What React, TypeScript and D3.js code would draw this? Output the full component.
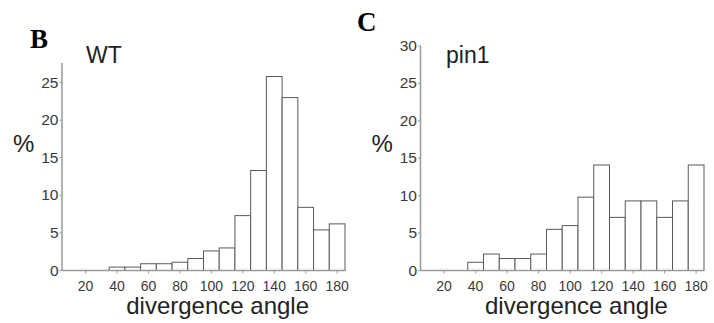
import React from 'react'
import * as d3 from 'd3'

// bins are 10 degrees wide, labelled by their centre
const binCenters = [40, 50, 60, 70, 80, 90, 100, 110, 120, 130, 140, 150, 160, 170, 180]
const wtPercent = [0.45, 0.45, 0.9, 0.9, 1.1, 1.6, 2.6, 3.0, 7.3, 13.3, 25.8, 23.0, 8.4, 5.4, 6.2]
const pin1Percent = [1.1, 2.2, 1.6, 1.6, 2.2, 5.5, 6.0, 9.8, 14.1, 7.1, 9.3, 9.3, 7.1, 9.3, 14.1]
const xTicks = [20, 40, 60, 80, 100, 120, 140, 160, 180]
const yTicksWT = [0, 5, 10, 15, 20, 25]
const yTicksPin1 = [0, 5, 10, 15, 20, 25, 30]

const AXIS = '#9a9a9a'
const TEXT = '#3a3a3a'
const BAR = '#5a5a5a'
const SANS = 'Arial, "Liberation Sans", sans-serif'

function Panel({ values, yTicks, yMax, left, right, top, letter, letterPos, title, titlePos }) {
  const bottom = 270.5
  const x = d3.scaleLinear().domain([5, 185]).range([left, right])
  const y = d3.scaleLinear().domain([0, yMax]).range([bottom, top])
  const binW = 10

  return (
    <g>
      <text x={letterPos[0]} y={letterPos[1]} fontFamily='"Liberation Serif", "Times New Roman", serif'
        fontWeight="bold" fontSize={27} fill="#000">{letter}</text>
      <text x={titlePos[0]} y={titlePos[1]} fontFamily={SANS} fontSize={23} fill="#222">{title}</text>
      <text x={left - 49} y={152} fontFamily={SANS} fontSize={24} fill="#222">%</text>

      {/* bars */}
      {values.map((v, i) => (
        <rect key={i}
          x={x(binCenters[i] - binW / 2)}
          y={y(v)}
          width={x(binCenters[i] + binW / 2) - x(binCenters[i] - binW / 2)}
          height={bottom - y(v)}
          fill="#fff" stroke={BAR} strokeWidth={1} />
      ))}

      {/* y axis */}
      <line x1={left} x2={left} y1={top} y2={bottom} stroke={AXIS} strokeWidth={1.5} />
      {yTicks.map(t => (
        <g key={t}>
          <line x1={left - 2.5} x2={left} y1={y(t)} y2={y(t)} stroke={AXIS} />
          <text x={left - 3.5} y={y(t) + 5} textAnchor="end" fontFamily={SANS} fontSize={15.5} fill={TEXT}>{t}</text>
        </g>
      ))}

      {/* x axis */}
      <line x1={left} x2={right} y1={bottom} y2={bottom} stroke={AXIS} strokeWidth={1.5} />
      {xTicks.map(t => (
        <g key={t}>
          <line x1={x(t)} x2={x(t)} y1={bottom} y2={bottom + 3} stroke={AXIS} />
          <text x={x(t)} y={291} textAnchor="middle" fontFamily={SANS} fontSize={14} fill={TEXT}>{t}</text>
        </g>
      ))}
      <text x={x(104)} y={314} textAnchor="middle" fontFamily={SANS} fontSize={24} fill="#222">divergence angle</text>
    </g>
  )
}

export default function App() {
  return (
    <svg width={714} height={323} style={{ position: 'absolute', left: 0, top: 0, background: '#fff' }}>
      <Panel values={wtPercent} yTicks={yTicksWT} yMax={27.6} left={62} right={345} top={63}
        letter="B" letterPos={[30, 48]} title="WT" titlePos={[86, 63]} />
      <Panel values={pin1Percent} yTicks={yTicksPin1} yMax={30} left={420.5} right={704} top={46}
        letter="C" letterPos={[357, 31]} title="pin1" titlePos={[446, 63]} />
    </svg>
  )
}
